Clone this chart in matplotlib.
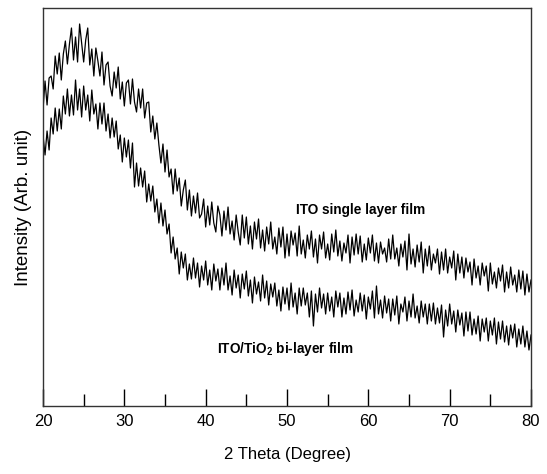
import numpy as np
import matplotlib
matplotlib.use("Agg")
import matplotlib.pyplot as plt
import matplotlib.ticker as ticker

plt.rcParams['font.family'] = ['Liberation Sans', 'DejaVu Sans']
plt.rcParams['mathtext.fontset'] = 'custom'
plt.rcParams['mathtext.rm'] = 'Liberation Sans'
plt.rcParams['mathtext.bf'] = 'Liberation Sans:bold'

# ------------------------------------------------
# Data (intensity in arb. units, 0.25 deg steps)
# ------------------------------------------------
two_theta_start = 20
two_theta_end = 80

ito_single = [
    296, 325, 301, 328, 330, 317, 350, 332,
    353, 326, 352, 365, 342, 362, 378, 346,
    369, 344, 382, 363, 344, 366, 378, 341,
    357, 330, 358, 345, 330, 354, 321, 341,
    344, 320, 310, 334, 318, 339, 307, 324,
    300, 323, 326, 302, 327, 304, 294, 317,
    298, 317, 288, 303, 304, 274, 290, 267,
    283, 261, 243, 262, 234, 256, 229, 237,
    212, 237, 215, 228, 200, 216, 226, 196,
    216, 190, 210, 193, 213, 188, 192, 207,
    179, 200, 181, 204, 183, 174, 200, 191,
    170, 195, 176, 199, 172, 185, 166, 191,
    174, 161, 191, 168, 189, 162, 180, 157,
    184, 167, 187, 158, 176, 155, 179, 162,
    184, 157, 169, 152, 178, 159, 179, 148,
    172, 150, 175, 161, 173, 150, 180, 152,
    166, 148, 171, 157, 175, 149, 167, 143,
    171, 157, 174, 148, 162, 146, 172, 154,
    176, 150, 165, 145, 163, 153, 171, 143,
    169, 151, 172, 152, 170, 144, 162, 146,
    168, 153, 171, 145, 163, 143, 164, 152,
    158, 144, 167, 147, 171, 147, 158, 140,
    162, 149, 165, 136, 172, 142, 157, 139,
    161, 144, 164, 133, 157, 140, 160, 136,
    152, 143, 157, 132, 154, 136, 157, 133,
    149, 138, 155, 126, 152, 133, 149, 128,
    148, 134, 144, 121, 147, 128, 140, 121,
    143, 130, 140, 115, 143, 122, 134, 118,
    138, 125, 141, 114, 134, 118, 139, 121,
    131, 114, 136, 117, 135, 111, 132, 114,
    126,
]

ito_tio2 = [
    271, 251, 275, 256, 288, 272, 298, 275,
    297, 277, 310, 292, 317, 290, 311, 291,
    326, 296, 317, 289, 320, 296, 311, 285,
    316, 292, 302, 277, 303, 282, 303, 275,
    292, 268, 288, 269, 285, 257, 271, 244,
    268, 249, 266, 238, 263, 219, 243, 220,
    238, 219, 235, 204, 222, 205, 220, 194,
    207, 183, 203, 180, 196, 172, 182, 153,
    169, 147, 158, 132, 154, 138, 152, 126,
    142, 127, 148, 128, 143, 119, 140, 126,
    145, 121, 136, 116, 142, 125, 137, 116,
    138, 121, 143, 116, 130, 111, 136, 118,
    131, 108, 132, 117, 135, 110, 126, 103,
    129, 112, 124, 105, 131, 108, 125, 101,
    122, 109, 123, 100, 116, 95, 119, 102,
    118, 96, 123, 99, 113, 92, 118, 100,
    118, 101, 113, 89, 115, 80, 112, 94,
    118, 98, 112, 92, 113, 95, 109, 89,
    115, 99, 113, 89, 108, 92, 114, 96,
    116, 90, 106, 94, 113, 95, 111, 87,
    109, 97, 115, 88, 120, 92, 106, 88,
    110, 93, 107, 85, 107, 91, 110, 82,
    102, 94, 109, 85, 105, 89, 112, 88,
    100, 83, 105, 89, 102, 82, 102, 85,
    103, 82, 98, 83, 101, 69, 96, 80,
    102, 82, 95, 74, 96, 81, 93, 70,
    94, 75, 94, 71, 87, 72, 90, 65,
    87, 74, 88, 65, 85, 71, 88, 62,
    84, 67, 85, 64, 80, 61, 81, 68,
    82, 59, 77, 62, 80, 59, 75, 56,
    71,
]

x_ticks = [20, 30, 40, 50, 60, 70, 80]

two_theta = np.linspace(two_theta_start, two_theta_end, len(ito_single))

# ------------------------------------------------
# Plot
# ------------------------------------------------
fig = plt.figure(figsize=(5.47, 4.74), dpi=100)
ax = fig.add_axes([43 / 547, 1 - 406 / 474, (531 - 43) / 547, (406 - 8) / 474])

ax.plot(two_theta, ito_single, color='black', linewidth=0.9)
ax.plot(two_theta, ito_tio2, color='black', linewidth=0.9)

ax.text(51.1, 196, 'ITO single layer film', fontsize=9.8, fontweight='bold',
        va='center', ha='left')
ax.text(41.4, 57, r'ITO/TiO$_\mathbf{2}$ bi-layer film', fontsize=9.8,
        fontweight='bold', va='center', ha='left')

ax.set_xlim(20, 80)
ax.set_ylim(0, 398)
ax.set_xticks(x_ticks)
ax.xaxis.set_minor_locator(ticker.MultipleLocator(5))
ax.set_yticks([])

ax.tick_params(axis='x', which='major', direction='in', length=12, width=1,
               labelsize=12, pad=6, top=False)
ax.tick_params(axis='x', which='minor', direction='in', length=9, width=1, top=False)

for side in ax.spines.values():
    side.set_linewidth(1)
    side.set_color('#333333')

ax.set_xlabel('2 Theta (Degree)', fontsize=12, labelpad=13)
ax.set_ylabel('Intensity (Arb. unit)', fontsize=13.5, labelpad=8)

fig.savefig('out.png', dpi=100)
